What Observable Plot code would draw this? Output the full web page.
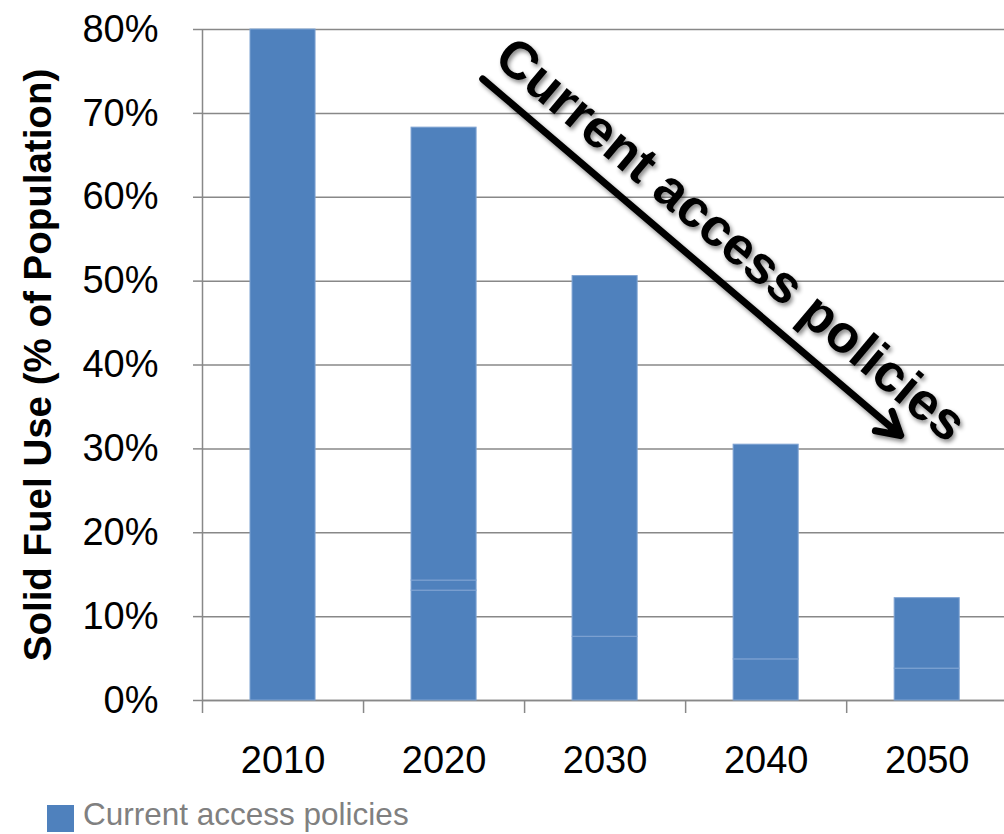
<!DOCTYPE html>
<html>
<head>
<meta charset="utf-8">
<script src="https://cdn.jsdelivr.net/npm/d3@7"></script>
<script src="https://cdn.jsdelivr.net/npm/@observablehq/plot@0.6"></script>
<style>
  html, body { margin: 0; padding: 0; background: white; }
  #wrap { position: relative; width: 1004px; height: 834px; overflow: hidden; font-family: "Liberation Sans", Arial, sans-serif; }
  #legend-swatch { position: absolute; left: 47px; top: 805px; width: 27px; height: 27px; background: #4F81BD; }
  #legend-text { position: absolute; left: 83px; top: 799px; font-size: 31.5px; line-height: 31.5px; color: #808080; white-space: nowrap; }
</style>
</head>
<body>
<div id="wrap">
  <div id="chart"></div>
  <div id="legend-swatch"></div>
  <div id="legend-text">Current access policies</div>
</div>
<script>
// ---- Data ----
const years = [2010, 2020, 2030, 2040, 2050];
// stacked segments of the bars (% of population), bottom to top
const lowerSegment  = [80, 13.1, 7.6, 4.9, 3.8];
const middleSegment = [0, 1.2, 43.0, 25.6, 8.4];
const upperSegment  = [0, 54.0, 0, 0, 0];
const yTicks = [0, 10, 20, 30, 40, 50, 60, 70, 80];
const seriesName = "Current access policies";
const yTitle = "Solid Fuel Use (% of Population)";
const annotationText = "Current access policies";
// annotation arrow, in data units (year, %)
const arrowFrom = {year: 2022.4, value: 74.1};
const arrowTo = {year: 2048.35, value: 31.6};
const annotationAt = {year: 2037.8, value: 54.9};

// ---- Build stacked rows ----
const rows = [];
years.forEach((yr, i) => {
  let base = 0;
  [lowerSegment[i], middleSegment[i], upperSegment[i]].forEach((v, k) => {
    if (v > 0) {
      rows.push({year: yr, seg: k, y1: base, y2: base + v});
      base += v;
    }
  });
});
const halfBar = 2.02; // half of bar width in years (band is 10 years)
const boundaries = years.map(y => y - 5);

const gridColor = "#888888";
const plot = Plot.plot({
  width: 1004,
  height: 790,
  marginTop: 29,
  marginBottom: 90,
  marginLeft: 202,
  marginRight: 0,
  style: {fontFamily: "'Liberation Sans', Arial, sans-serif", fontSize: "38px", background: "white", overflow: "visible", color: "black"},
  x: {domain: [2005, 2054.8]},
  y: {domain: [0, 80]},
  marks: [
    Plot.gridY(yTicks, {stroke: gridColor, strokeOpacity: 1, strokeWidth: 1.5}),
    Plot.axisY(yTicks, {tickFormat: d => d + "%", tickSize: 9, tickPadding: 35, stroke: gridColor, strokeWidth: 1.5, fill: "black", label: null, fontSize: 38}),
    Plot.axisX(boundaries, {tickFormat: () => "", tickSize: 13, stroke: gridColor, strokeWidth: 1.5, label: null}),
    Plot.axisX(years, {tickFormat: d => String(d), tickSize: 0, tickPadding: 46, fill: "black", label: null, fontSize: 38}),
    Plot.ruleX([2005], {stroke: gridColor, strokeWidth: 1.5}),
    Plot.ruleY([0], {stroke: gridColor, strokeWidth: 1.5}),
    Plot.rectY(rows, {x1: d => d.year - halfBar, x2: d => d.year + halfBar, y1: "y1", y2: "y2", fill: "#4F81BD", stroke: "#7FA3D2", strokeWidth: 1}),
    Plot.text([yTitle], {frameAnchor: "left", textAnchor: "middle", rotate: -90, dx: -164, fontWeight: "bold", fontSize: 38.5, fill: "black"}),
    Plot.arrow([0], {x1: () => arrowFrom.year, y1: () => arrowFrom.value, x2: () => arrowTo.year, y2: () => arrowTo.value, stroke: "black", strokeWidth: 7, headLength: 5.5, headAngle: 60}),
    Plot.text([annotationText], {x: () => annotationAt.year, y: () => annotationAt.value, rotate: 40, fontWeight: "bold", fontSize: 53, fill: "black"})
  ]
});
document.getElementById("chart").appendChild(plot);
// soft drop shadow on the annotation, like the original
d3.select(plot).selectAll('g[aria-label="arrow"]').style("filter", "drop-shadow(2px 3px 2px rgba(0,0,0,0.45))");
d3.select(plot).selectAll('g[aria-label="text"]').filter(function() { return this.textContent === annotationText; })
  .style("filter", "drop-shadow(2px 3px 2px rgba(0,0,0,0.45))");
</script>
</body>
</html>
